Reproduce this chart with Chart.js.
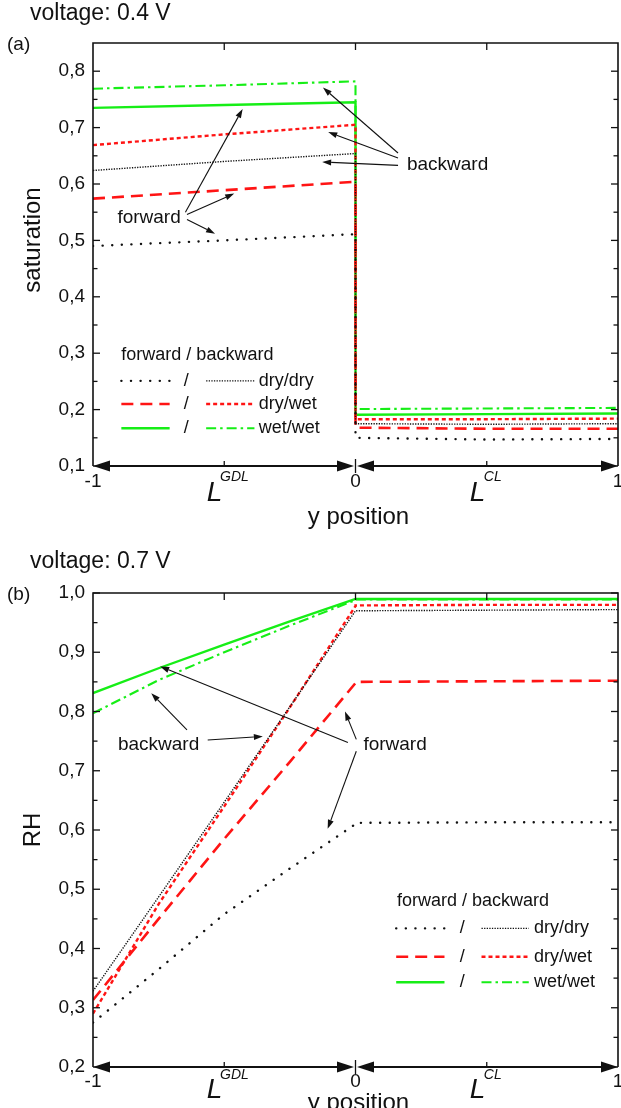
<!DOCTYPE html>
<html>
<head>
<meta charset="utf-8">
<script src="https://cdn.jsdelivr.net/npm/chart.js@4.4.1/dist/chart.umd.min.js"></script>
<style>
html,body{margin:0;padding:0;background:#fff;}
#wrap{position:relative;width:621px;height:1108px;overflow:hidden;background:#fff;}
canvas{position:absolute;left:0;}
</style>
</head>
<body>
<div id="wrap">
<canvas id="chartA" width="621" height="550" style="top:0px"></canvas>
<canvas id="chartB" width="621" height="558" style="top:550px"></canvas>
</div>
<script>
// ---------- shared x axis ----------
const xTicks = [-1, -0.5, 0, 0.5, 1];
const xTickLabels = ['-1', '', '0', '', '1'];
const seriesNames = ['forward dry/dry', 'backward dry/dry', 'forward dry/wet', 'backward dry/wet', 'forward wet/wet', 'backward wet/wet'];
const legendRowLabels = ['dry/dry', 'dry/wet', 'wet/wet'];

// ---------- panel (a): saturation, voltage 0.4 V ----------
const satYMajor = [0.1, 0.2, 0.3, 0.4, 0.5, 0.6, 0.7, 0.8];
const satYMinor = [0.15, 0.25, 0.35, 0.45, 0.55, 0.65, 0.75];
const satGdlX = [-1, -0.5, 0];
const satClX = [0, 0.5, 1];
const satFwdDryDryGdl = [0.490, 0.500, 0.511];
const satFwdDryDryCl  = [0.150, 0.147, 0.148];
const satBwdDryDryGdl = [0.624, 0.640, 0.654];
const satBwdDryDryCl  = [0.175, 0.174, 0.175];
const satFwdDryWetGdl = [0.574, 0.589, 0.604];
const satFwdDryWetCl  = [0.168, 0.166, 0.166];
const satBwdDryWetGdl = [0.669, 0.688, 0.705];
const satBwdDryWetCl  = [0.183, 0.183, 0.184];
const satFwdWetWetGdl = [0.735, 0.740, 0.745];
const satFwdWetWetCl  = [0.191, 0.192, 0.193];
const satBwdWetWetGdl = [0.769, 0.775, 0.782];
const satBwdWetWetCl  = [0.201, 0.202, 0.203];

// ---------- panel (b): RH, voltage 0.7 V ----------
const rhYMajor = [0.2, 0.3, 0.4, 0.5, 0.6, 0.7, 0.8, 0.9, 1.0];
const rhYMinor = [0.25, 0.35, 0.45, 0.55, 0.65, 0.75, 0.85, 0.95];
const rhGdlX = [-1, -0.75, -0.5, -0.25, 0];
const rhClX = [0, 0.5, 1];
const rhFwdDryDryGdl = [0.275, 0.365, 0.458, 0.535, 0.610];
const rhFwdDryDryCl  = [0.612, 0.613, 0.613];
const rhBwdDryDryGdl = [0.328, 0.487, 0.647, 0.808, 0.970];
const rhBwdDryDryCl  = [0.970, 0.971, 0.972];
const rhFwdDryWetGdl = [0.313, 0.450, 0.585, 0.715, 0.848];
const rhFwdDryWetCl  = [0.850, 0.851, 0.852];
const rhBwdDryWetGdl = [0.290, 0.475, 0.640, 0.807, 0.978];
const rhBwdDryWetCl  = [0.979, 0.980, 0.980];
const rhFwdWetWetGdl = [0.831, 0.873, 0.913, 0.952, 0.990];
const rhFwdWetWetCl  = [0.990, 0.990, 0.990];
const rhBwdWetWetGdl = [0.797, 0.853, 0.900, 0.945, 0.988];
const rhBwdWetWetCl  = [0.989, 0.989, 0.989];

// ---------- annotations (data coordinates) ----------
const satAnnoText = [
  {t: 'backward', x: 0.196, y: 0.634},
  {t: 'forward', x: -0.907, y: 0.540}
];
const satAnnoArrows = [
  [0.162, 0.655, -0.124, 0.771],
  [0.162, 0.646, -0.104, 0.692],
  [0.162, 0.633, -0.127, 0.639],
  [-0.648, 0.550, -0.430, 0.733],
  [-0.642, 0.546, -0.462, 0.583],
  [-0.642, 0.537, -0.535, 0.512]
];
const rhAnnoText = [
  {t: 'backward', x: -0.905, y: 0.744},
  {t: 'forward', x: 0.030, y: 0.744}
];
const rhAnnoArrows = [
  [-0.642, 0.769, -0.778, 0.831],
  [-0.563, 0.752, -0.353, 0.758],
  [-0.029, 0.7475, -0.744, 0.876],
  [0.003, 0.753, -0.040, 0.800],
  [0.003, 0.733, -0.106, 0.602]
];
const satLegend = {titleX: -0.892, titleY: 0.297, rowsY: [0.251, 0.210, 0.167], fwdX: [-0.892, -0.708], slashX: -0.645, bwdX: [-0.569, -0.385], labelX: -0.369};
const rhLegend  = {titleX: 0.158, titleY: 0.480, rowsY: [0.434, 0.386, 0.343], fwdX: [0.155, 0.339], slashX: 0.407, bwdX: [0.480, 0.660], labelX: 0.680};

// ---------- styles ----------
const BLACK = '#111111', RED = '#ff1414', GREEN = '#16ee16';
const seriesStyles = [
  {color: BLACK, width: 2.4, dash: [0.1, 9.5], cap: 'round'},
  {color: BLACK, width: 1.4, dash: [1.3, 1.3], cap: 'butt'},
  {color: RED,   width: 2.6, dash: [12, 7],    cap: 'butt'},
  {color: RED,   width: 2.4, dash: [4, 3],     cap: 'butt'},
  {color: GREEN, width: 2.4, dash: [],         cap: 'butt'},
  {color: GREEN, width: 2.1, dash: [10, 4, 2.5, 4], cap: 'butt'}
];
const FONT = '"Liberation Sans", Arial, Helvetica, sans-serif';
Chart.defaults.font.family = FONT;

function series(gx, g, cx, c) {
  return gx.map((x, i) => ({x: x, y: g[i]})).concat(cx.map((x, i) => ({x: x, y: c[i]})));
}

function makeDeco(cfg) {
  return {
    id: 'deco',
    afterDraw(chart) {
      const ctx = chart.ctx, a = chart.chartArea, xs = chart.scales.x, ys = chart.scales.y;
      const X = v => xs.getPixelForValue(v), Y = v => ys.getPixelForValue(v);
      const off = cfg.offsets;
      ctx.save();
      ctx.setLineDash([]);
      ctx.strokeStyle = BLACK; ctx.fillStyle = BLACK; ctx.lineCap = 'butt';
      const seg = (x1, y1, x2, y2, w) => { ctx.lineWidth = w; ctx.beginPath(); ctx.moveTo(x1, y1); ctx.lineTo(x2, y2); ctx.stroke(); };
      // frame
      ctx.lineWidth = 1.6;
      ctx.beginPath(); ctx.moveTo(a.left, a.bottom); ctx.lineTo(a.left, a.top); ctx.lineTo(a.right, a.top); ctx.lineTo(a.right, a.bottom); ctx.stroke();
      cfg.yMajor.forEach(v => { const p = Y(v); seg(a.left, p, a.left + 7, p, 1.3); seg(a.right, p, a.right - 7, p, 1.3); });
      cfg.yMinor.forEach(v => { const p = Y(v); seg(a.left, p, a.left + 4.5, p, 1.3); seg(a.right, p, a.right - 4.5, p, 1.3); });
      xTicks.forEach((v, i) => {
        if (i === 0 || i === xTicks.length - 1) return;
        const p = X(v);
        seg(p, a.top, p, a.top + 7, 1.3);
        if (v === 0) seg(p, a.bottom - 7, p, a.bottom + 7, 1.3); else seg(p, a.bottom, p, a.bottom - 5, 1.3);
      });
      // double arrows along the bottom axis
      const head = (tx, ty, dir, len, hw) => { ctx.beginPath(); ctx.moveTo(tx, ty); ctx.lineTo(tx - dir * len, ty - hw); ctx.lineTo(tx - dir * len, ty + hw); ctx.closePath(); ctx.fill(); };
      const dbl = (x1, x2, y) => { seg(x1 + 4, y, x2 - 4, y, 2); head(x1, y, -1, 17, 5.5); head(x2, y, 1, 17, 5.5); };
      dbl(X(-1), X(0) - 1.5, a.bottom);
      dbl(X(0) + 1.5, X(1), a.bottom);
      // x tick labels
      ctx.font = '19px ' + FONT; ctx.textAlign = 'center'; ctx.textBaseline = 'alphabetic';
      xTicks.forEach((v, i) => { if (xTickLabels[i]) ctx.fillText(xTickLabels[i], X(v), a.bottom + off.tick); });
      // L^GDL, L^CL
      ctx.textAlign = 'left';
      ctx.font = 'italic 28px ' + FONT; ctx.fillText('L', X(-0.567), a.bottom + off.L);
      ctx.font = 'italic 14px ' + FONT; ctx.fillText('GDL', X(-0.516), a.bottom + off.sup);
      ctx.font = 'italic 28px ' + FONT; ctx.fillText('L', X(0.435), a.bottom + off.L);
      ctx.font = 'italic 14px ' + FONT; ctx.fillText('CL', X(0.489), a.bottom + off.sup);
      // x title
      ctx.font = '24px ' + FONT; ctx.textAlign = 'center';
      ctx.fillText('y position', X(0) + 3, a.bottom + off.title);
      // panel title, label
      ctx.textAlign = 'left'; ctx.textBaseline = 'middle';
      ctx.font = '23px ' + FONT; ctx.fillText(cfg.title, 30, cfg.titleY);
      ctx.font = '19px ' + FONT; ctx.fillText(cfg.panel, 7, a.top + 2);
      // y title
      ctx.save();
      ctx.translate(33, cfg.yTitleY); ctx.rotate(-Math.PI / 2);
      ctx.textAlign = 'center'; ctx.font = '24px ' + FONT; ctx.fillText(cfg.yTitle, 0, 0);
      ctx.restore();
      // annotation arrows
      const arrow = (x1, y1, x2, y2) => {
        const p1x = X(x1), p1y = Y(y1), p2x = X(x2), p2y = Y(y2);
        const ang = Math.atan2(p2y - p1y, p2x - p1x), L = 9, hw = 3;
        const bx = p2x - L * Math.cos(ang), by = p2y - L * Math.sin(ang);
        seg(p1x, p1y, bx, by, 1.1);
        ctx.beginPath(); ctx.moveTo(p2x, p2y);
        ctx.lineTo(bx + hw * Math.sin(ang), by - hw * Math.cos(ang));
        ctx.lineTo(bx - hw * Math.sin(ang), by + hw * Math.cos(ang));
        ctx.closePath(); ctx.fill();
      };
      cfg.annoArrows.forEach(r => arrow(r[0], r[1], r[2], r[3]));
      ctx.font = '19px ' + FONT; ctx.textAlign = 'left'; ctx.textBaseline = 'middle';
      cfg.annoText.forEach(t => ctx.fillText(t.t, X(t.x), Y(t.y)));
      // legend
      const lg = cfg.legend;
      ctx.font = '18px ' + FONT;
      ctx.fillText('forward / backward', X(lg.titleX), Y(lg.titleY));
      const ds = chart.data.datasets;
      lg.rowsY.forEach((ry, r) => {
        const py = Y(ry);
        [[ds[2 * r], lg.fwdX], [ds[2 * r + 1], lg.bwdX]].forEach(([d, xr]) => {
          ctx.save();
          ctx.strokeStyle = d.borderColor; ctx.lineWidth = d.borderWidth;
          ctx.setLineDash(d.borderDash); ctx.lineCap = d.borderCapStyle;
          ctx.beginPath(); ctx.moveTo(X(xr[0]), py); ctx.lineTo(X(xr[1]), py); ctx.stroke();
          ctx.restore();
        });
        ctx.fillStyle = BLACK;
        ctx.textAlign = 'center'; ctx.fillText('/', X(lg.slashX), py);
        ctx.textAlign = 'left'; ctx.fillText(legendRowLabels[r], X(lg.labelX), py);
      });
      ctx.restore();
    }
  };
}

function makeChart(id, H, topPad, bottomPx, yMin, yMax, yMajor, dataSets, cfg) {
  return new Chart(document.getElementById(id), {
    type: 'line',
    data: {
      datasets: dataSets.map((d, i) => ({
        label: seriesNames[i], data: d,
        borderColor: seriesStyles[i].color, borderWidth: seriesStyles[i].width,
        borderDash: seriesStyles[i].dash, borderCapStyle: seriesStyles[i].cap,
        pointRadius: 0, fill: false, tension: 0
      }))
    },
    options: {
      responsive: false, animation: false, events: [],
      layout: {padding: {left: 0, right: 3, top: topPad, bottom: 0}},
      plugins: {legend: {display: false}, tooltip: {enabled: false}},
      scales: {
        x: {
          type: 'linear', min: -1, max: 1,
          grid: {display: false, drawTicks: false}, border: {display: false},
          ticks: {display: false},
          afterBuildTicks: s => { s.ticks = xTicks.map(v => ({value: v})); },
          afterFit: s => { s.height = H - bottomPx; }
        },
        y: {
          type: 'linear', min: yMin, max: yMax,
          grid: {display: false, drawTicks: false}, border: {display: false},
          ticks: {padding: 8, color: BLACK, font: {size: 19, family: FONT},
                  callback: v => Number(v).toFixed(1).replace('.', ',')},
          afterBuildTicks: s => { s.ticks = yMajor.map(v => ({value: v})); },
          afterFit: s => { s.width = 93; }
        }
      }
    },
    plugins: [makeDeco(cfg)]
  });
}

makeChart('chartA', 550, 43, 466, 0.1, 0.85, satYMajor, [
  series(satGdlX, satFwdDryDryGdl, satClX, satFwdDryDryCl),
  series(satGdlX, satBwdDryDryGdl, satClX, satBwdDryDryCl),
  series(satGdlX, satFwdDryWetGdl, satClX, satFwdDryWetCl),
  series(satGdlX, satBwdDryWetGdl, satClX, satBwdDryWetCl),
  series(satGdlX, satFwdWetWetGdl, satClX, satFwdWetWetCl),
  series(satGdlX, satBwdWetWetGdl, satClX, satBwdWetWetCl)
], {title: 'voltage: 0.4 V', titleY: 14, panel: '(a)', yTitle: 'saturation', yTitleY: 240,
    offsets: {tick: 21, L: 35, sup: 15, title: 58},
    yMajor: satYMajor, yMinor: satYMinor, annoText: satAnnoText, annoArrows: satAnnoArrows, legend: satLegend});

makeChart('chartB', 558, 43, 517, 0.2, 1.0, rhYMajor, [
  series(rhGdlX, rhFwdDryDryGdl, rhClX, rhFwdDryDryCl),
  series(rhGdlX, rhBwdDryDryGdl, rhClX, rhBwdDryDryCl),
  series(rhGdlX, rhFwdDryWetGdl, rhClX, rhFwdDryWetCl),
  series(rhGdlX, rhBwdDryWetGdl, rhClX, rhBwdDryWetCl),
  series(rhGdlX, rhFwdWetWetGdl, rhClX, rhFwdWetWetCl),
  series(rhGdlX, rhBwdWetWetGdl, rhClX, rhBwdWetWetCl)
], {title: 'voltage: 0.7 V', titleY: 12, panel: '(b)', yTitle: 'RH', yTitleY: 280,
    offsets: {tick: 20, L: 31, sup: 12, title: 43},
    yMajor: rhYMajor, yMinor: rhYMinor, annoText: rhAnnoText, annoArrows: rhAnnoArrows, legend: rhLegend});
</script>
</body>
</html>
